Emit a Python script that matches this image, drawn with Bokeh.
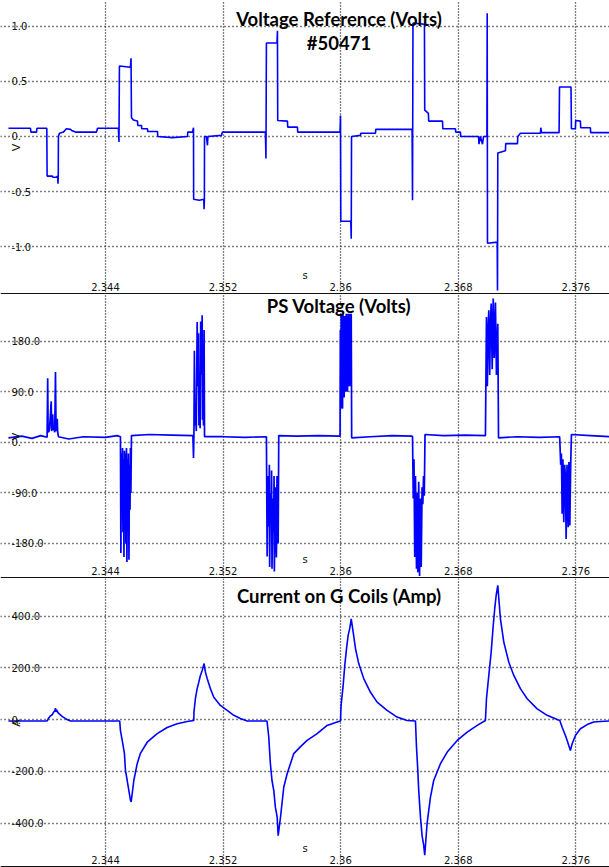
import math
from bokeh.plotting import figure
from bokeh.layouts import column
from bokeh.models import Range1d, LinearAxis, FixedTicker, CustomJSTickFormatter, Label
from bokeh.embed import file_html
from bokeh.resources import INLINE

# ---------------- data ----------------
x_ticks = [2.344, 2.352, 2.36, 2.368, 2.376]
vref_ticks = [-1.0, -0.5, 0.0, 0.5, 1.0]
ps_ticks = [-180.0, -90.0, 0.0, 90.0, 180.0]
cur_ticks = [-400.0, -200.0, 0.0, 200.0, 400.0]

title_vref = "Voltage Reference (Volts)"
shot_label = "#50471"
title_ps = "PS Voltage (Volts)"
title_cur = "Current on G Coils (Amp)"

vref_t = [2.33740, 2.33890, 2.33893, 2.33931, 2.33934, 2.34001, 2.34003, 2.34039, 2.34042, 2.34067,
          2.34075, 2.34077, 2.34079, 2.34080, 2.34087, 2.34114, 2.34134, 2.34162, 2.34170, 2.34196,
          2.34339, 2.34346, 2.34488, 2.34492, 2.34495, 2.34570, 2.34574, 2.34577, 2.34590, 2.34618,
          2.34620, 2.34645, 2.34647, 2.34686, 2.34688, 2.34754, 2.34756, 2.34856, 2.34958, 2.34960,
          2.34992, 2.34999, 2.35000, 2.35039, 2.35069, 2.35071, 2.35073, 2.35074, 2.35087, 2.35094,
          2.35097, 2.35189, 2.35196, 2.35488, 2.35492, 2.35495, 2.35567, 2.35570, 2.35572, 2.35638,
          2.35640, 2.35706, 2.35708, 2.35996, 2.35999, 2.36001, 2.36069, 2.36072, 2.36074, 2.36135,
          2.36137, 2.36237, 2.36239, 2.36486, 2.36489, 2.36492, 2.36570, 2.36572, 2.36597, 2.36599,
          2.36693, 2.36695, 2.36781, 2.36783, 2.36815, 2.36817, 2.36938, 2.36941, 2.36951, 2.36965,
          2.36972, 2.36995, 2.36997, 2.36999, 2.37065, 2.37067, 2.37069, 2.37121, 2.37123, 2.37203,
          2.37205, 2.37223, 2.37359, 2.37362, 2.37366, 2.37486, 2.37489, 2.37567, 2.37570, 2.37597,
          2.37599, 2.37631, 2.37633, 2.37699, 2.37701, 2.37829]
vref_v = [0.075, 0.075, 0.04, 0.04, 0.075, 0.075, -0.36, -0.36, -0.37, -0.37,
          -0.36, -0.43, -0.36, 0.0, 0.03, 0.04, 0.07, 0.065, 0.055, 0.04,
          0.04, 0.075, 0.075, -0.05, 0.64, 0.63, 0.71, 0.17, 0.15, 0.14,
          0.10, 0.10, 0.07, 0.07, 0.045, 0.045, 0.0, -0.01, 0.0, 0.04,
          0.04, 0.08, -0.57, -0.58, -0.57, -0.66, -0.57, 0.0, 0.0, -0.08,
          0.0, 0.01, 0.04, 0.04, -0.2, 0.85, 0.85, 0.96, 0.145, 0.14,
          0.085, 0.085, 0.04, 0.04, 0.19, -0.77, -0.77, -0.93, 0.0, 0.01,
          0.03, 0.03, 0.065, 0.065, -0.58, 1.03, 1.02, 0.24, 0.21, 0.14,
          0.14, 0.07, 0.07, 0.04, 0.04, 0.0, 0.0, -0.07, 0.0, -0.07,
          0.0, 0.0, 1.12, -0.97, -0.96, -1.4, -0.15, -0.13, -0.065, -0.065,
          0.0, 0.03, 0.03, 0.08, 0.035, 0.035, 0.45, 0.45, 0.07, 0.07,
          0.145, 0.14, 0.08, 0.08, 0.035, 0.035]

ps_t = [2.33740, 2.33830, 2.33900, 2.33960, 2.34003,
        2.34007, 2.34010, 2.34016, 2.34020, 2.34031, 2.34034, 2.34041, 2.34045, 2.34050, 2.34055,
        2.34060, 2.34064, 2.34072, 2.34075, 2.34080,
        2.34150, 2.34250, 2.34400, 2.34480, 2.34502,
        2.34505, 2.34509, 2.34512, 2.34516, 2.34519, 2.34522, 2.34526, 2.34529, 2.34533, 2.34536,
        2.34539, 2.34543, 2.34546, 2.34550, 2.34553, 2.34556, 2.34560, 2.34563, 2.34567, 2.34570,
        2.34573, 2.34577,
        2.34700, 2.34850, 2.34995,
        2.34999, 2.35002, 2.35005, 2.35009, 2.35012, 2.35018, 2.35024, 2.35028, 2.35033, 2.35036,
        2.35039, 2.35044, 2.35048, 2.35053, 2.35058, 2.35060, 2.35063, 2.35067, 2.35071, 2.35074,
        2.35200, 2.35350, 2.35495,
        2.35500, 2.35505, 2.35512, 2.35515, 2.35517, 2.35522, 2.35527, 2.35530, 2.35533, 2.35539,
        2.35544, 2.35547, 2.35549, 2.35556, 2.35563, 2.35567, 2.35570, 2.35575, 2.35579,
        2.35700, 2.35850, 2.35996,
        2.35998, 2.36001, 2.36004, 2.36007, 2.36010, 2.36013, 2.36016, 2.36018, 2.36021, 2.36024,
        2.36027, 2.36030, 2.36033, 2.36036, 2.36038, 2.36041, 2.36044, 2.36047, 2.36050, 2.36053,
        2.36055, 2.36058, 2.36061, 2.36064, 2.36067, 2.36070, 2.36072, 2.36075,
        2.36200, 2.36350, 2.36485,
        2.36489, 2.36494, 2.36499, 2.36504, 2.36509, 2.36516, 2.36520, 2.36525, 2.36531, 2.36537,
        2.36542, 2.36548, 2.36554, 2.36559, 2.36564, 2.36569, 2.36574,
        2.36700, 2.36850, 2.36985,
        2.36992, 2.36998, 2.37003, 2.37008, 2.37014, 2.37019, 2.37024, 2.37031, 2.37038, 2.37045,
        2.37053, 2.37060, 2.37065, 2.37069, 2.37074,
        2.37200, 2.37350, 2.37490,
        2.37497, 2.37502, 2.37507, 2.37512, 2.37518, 2.37524, 2.37529, 2.37534, 2.37540, 2.37548,
        2.37553, 2.37559, 2.37565, 2.37570,
        2.37700, 2.37829]
ps_v = [8, 11, 7, 12, 9,
        114, 18, 20, 25, 73, 20, 50, 22, 25, 18,
        125, 20, 42, 18, 10,
        6, 10, 9, 12, 10,
        -197, -20, -120, -10, -160, -30, -204, -15, -100, -20,
        -180, -10, -213, -30, -140, -20, -209, -40, -120, -10,
        -90, 12,
        14, 13, 12,
        -28, 15, 163, 30, 60, 20, 214, 100, 194, 30,
        80, 25, 215, 120, 226, 40, 90, 30, 200, 10,
        10, 9, 10,
        -203, -60, -150, -40, -222, -90, -140, -50, -225, -100,
        -160, -60, -230, -80, -205, -60, -120, -180, 12,
        11, 12, 11,
        200, 60, 229, 90, 120, 60, 229, 100, 150, 80,
        225, 120, 180, 90, 229, 110, 160, 90, 229, 120,
        200, 100, 229, 110, 170, 100, 229, 8,
        10, 12, 11,
        10, -100, -30, -204, -60, -225, -90, -231, -70, -238,
        -100, -222, -80, -110, -60, -95, 14,
        12, 13, 12,
        223, 100, 200, 235, 120, 210, 247, 130, 256, 150,
        249, 120, 180, 211, 8,
        10, 9, 10,
        -40, -20, -127, -30, -142, -40, -60, -172, -40, -151,
        -35, -148, -40, 14,
        12, 10]

cur_t = [2.33740, 2.34003, 2.34012, 2.34026, 2.34039, 2.34046, 2.34056, 2.34060, 2.34063, 2.34067,
         2.34080, 2.34107, 2.34135, 2.34162, 2.34497, 2.34502, 2.34514, 2.34529, 2.34536, 2.34548,
         2.34559, 2.34570, 2.34575, 2.34593, 2.34616, 2.34638, 2.34684, 2.34752, 2.34820, 2.34888,
         2.34956, 2.35001, 2.35002, 2.35012, 2.35024, 2.35035, 2.35046, 2.35058, 2.35071, 2.35080,
         2.35092, 2.35114, 2.35137, 2.35182, 2.35228, 2.35273, 2.35318, 2.35364, 2.35499, 2.35511,
         2.35522, 2.35533, 2.35545, 2.35556, 2.35568, 2.35575, 2.35591, 2.35613, 2.35636, 2.35681,
         2.35727, 2.35772, 2.35840, 2.35908, 2.35976, 2.35999, 2.36003, 2.36017, 2.36028, 2.36040,
         2.36051, 2.36062, 2.36072, 2.36085, 2.36101, 2.36123, 2.36157, 2.36203, 2.36248, 2.36316,
         2.36384, 2.36452, 2.36509, 2.36516, 2.36525, 2.36531, 2.36543, 2.36554, 2.36565, 2.36572,
         2.36588, 2.36611, 2.36633, 2.36679, 2.36725, 2.36793, 2.36861, 2.36929, 2.36985, 2.36992,
         2.37008, 2.37024, 2.37038, 2.37048, 2.37058, 2.37069, 2.37087, 2.37110, 2.37144, 2.37178,
         2.37223, 2.37269, 2.37337, 2.37405, 2.37473, 2.37491, 2.37507, 2.37529, 2.37541, 2.37552,
         2.37563, 2.37575, 2.37597, 2.37631, 2.37677, 2.37722, 2.37767, 2.37829]
cur_a = [-5, -5, 5, 15, 20, 28, 35, 45, 30, 38,
         25, 12, 2, -5, -5, -42, -80, -130, -196, -235,
         -273, -311, -318, -235, -170, -130, -87, -54, -30, -16,
         -7, -3, 29, 82, 120, 145, 171, 190, 217, 184,
         159, 120, 87, 55, 36, 17, 5, -5, -5, -67,
         -170, -235, -273, -338, -376, -448, -376, -261, -209, -131,
         -104, -80, -54, -22, -9, -5, 55, 132, 209, 275,
         326, 353, 390, 339, 275, 217, 159, 106, 68, 36,
         10, -3, -5, -106, -196, -273, -376, -448, -486, -524,
         -402, -299, -235, -170, -125, -80, -48, -22, -3, 81,
         171, 261, 364, 428, 480, 519, 390, 300, 222, 171,
         120, 81, 42, 17, 1, -3, -29, -61, -80, -100,
         -119, -93, -61, -35, -19, -9, -7, -5]

# ---------------- layout constants ----------------
X_START, X_END = 2.33686, 2.37829
W = 609
TITLE_FONT = "Lato"
TICK_FONT = "DejaVu Sans"
BLUE = "#0000ff"

x_fmt = CustomJSTickFormatter(code="return String(parseFloat(tick.toFixed(3)));")
y_fmt_code = "return (tick == 0) ? '0.' : tick.toFixed(1);"


def make_panel(t, v, y_start, y_end, yticks, ylabel, height, titles, lw, axis_eps):
    p = figure(width=W, height=height,
               x_range=Range1d(X_START, X_END), y_range=Range1d(y_start, y_end),
               toolbar_location=None, x_axis_location=None, y_axis_location=None,
               output_backend="svg", min_border=0)
    p.outline_line_color = None
    p.background_fill_color = "white"
    p.border_fill_color = "white"

    p.xgrid.ticker = FixedTicker(ticks=x_ticks)
    p.ygrid.ticker = FixedTicker(ticks=yticks)
    p.xgrid.grid_line_color = "#000000"
    p.xgrid.grid_line_dash = "1 2"
    p.xgrid.grid_line_width = 1.3
    p.ygrid.grid_line_color = "#000000"
    p.ygrid.grid_line_dash = "1 3"
    p.ygrid.grid_line_width = 1.3

    p.line(t, v, line_color=BLUE, line_width=lw)

    xaxis = LinearAxis(ticker=FixedTicker(ticks=x_ticks), formatter=x_fmt,
                       fixed_location=y_start + axis_eps, axis_label="s")
    xaxis.axis_line_color = "#111111"
    xaxis.axis_line_width = 1
    xaxis.major_tick_line_color = None
    xaxis.minor_tick_line_color = None
    xaxis.major_label_standoff = -3
    xaxis.major_label_text_font = TICK_FONT
    xaxis.major_label_text_font_size = "10px"
    xaxis.major_label_text_color = "#111111"
    xaxis.axis_label_standoff = -1
    xaxis.axis_label_text_font = TICK_FONT
    xaxis.axis_label_text_font_size = "10px"
    xaxis.axis_label_text_font_style = "normal"
    xaxis.axis_label_text_color = "#111111"
    p.add_layout(xaxis, "above")

    yaxis = LinearAxis(ticker=FixedTicker(ticks=yticks),
                       formatter=CustomJSTickFormatter(code=y_fmt_code),
                       fixed_location=X_START)
    yaxis.axis_line_color = None
    yaxis.major_tick_line_color = None
    yaxis.minor_tick_line_color = None
    yaxis.major_label_standoff = 5
    yaxis.major_label_text_font = TICK_FONT
    yaxis.major_label_text_font_size = "10px"
    yaxis.major_label_text_color = "#111111"
    p.add_layout(yaxis, "right")

    p.add_layout(Label(x=X_START, y=(y_start + y_end) / 2.0, x_offset=16, text=ylabel,
                       angle=math.pi / 2, text_align="center", text_baseline="middle",
                       text_font=TICK_FONT, text_font_size="11px", text_color="#111111"))

    for txt, off in titles:
        p.add_layout(Label(x=338.5, x_units="screen", y=y_end, y_offset=-off, text=txt,
                           text_align="center", text_baseline="alphabetic",
                           text_font=TITLE_FONT, text_font_style="bold",
                           text_font_size="18.5px", text_color="black"))
    return p


p1 = make_panel(vref_t, vref_v, -1.436, 1.236, vref_ticks, "V", 294,
                [(title_vref, 18), (shot_label, 42)], 1.6, 0.005)
p2 = make_panel(ps_t, ps_v, -242.3, 263.1, ps_ticks, "V", 284,
                [(title_ps, 11)], 1.7, 0.9)
p3 = make_panel(cur_t, cur_a, -571.2, 545.7, cur_ticks, "A", 289,
                [(title_cur, 17)], 1.6, 2.0)

layout = column(p1, p2, p3, spacing=0)
open("out.html", "w").write(file_html(layout, INLINE, title="Shot #50471"))
